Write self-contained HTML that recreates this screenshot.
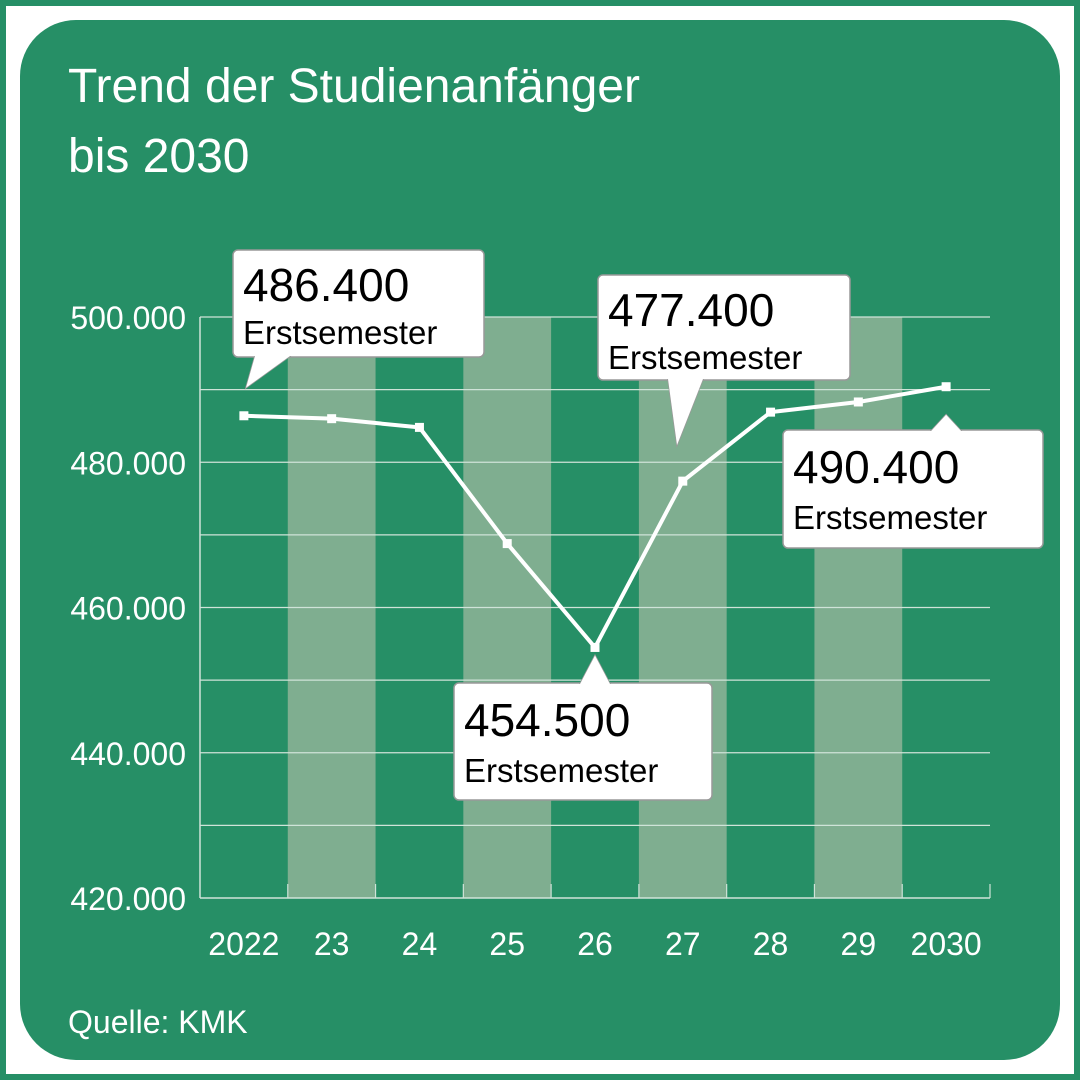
<!DOCTYPE html>
<html><head><meta charset="utf-8"><style>
html,body{margin:0;padding:0;background:#fff}
svg{display:block}
text{font-family:"Liberation Sans",sans-serif}
</style></head><body>
<svg width="1080" height="1080" viewBox="0 0 1080 1080">
<rect x="3" y="3" width="1074" height="1074" fill="#fff" stroke="#268f66" stroke-width="6"/>
<rect x="20" y="20" width="1040" height="1040" rx="56" fill="#268f66"/>
<text x="68" y="102" font-size="48" fill="#fff">Trend der Studienanfänger</text>
<text x="68" y="172" font-size="48" fill="#fff">bis 2030</text>
<g id="plot"></g>
<text x="68" y="1033" font-size="32" fill="#fff">Quelle: KMK</text>
</svg>
<script>
const categories=["2022","23","24","25","26","27","28","29","2030"];
const values=[486400,486000,484800,468800,454500,477400,486900,488300,490400];
const yTicks=[420000,440000,460000,480000,500000];
const yTickLabels=["420.000","440.000","460.000","480.000","500.000"];
const callouts=[
 {i:0,label:"486.400",box:[233,250,251,107],tail:"up"},
 {i:5,label:"477.400",box:[598,275,252,105],tail:"up"},
 {i:4,label:"454.500",box:[454,683,258,117],tail:"down"},
 {i:8,label:"490.400",box:[783,430,260,118],tail:"down"}
];
const NS="http://www.w3.org/2000/svg";
const g=document.getElementById('plot');
const X0=200,X1=990,Y0=898,Ymin=420000,Ymax=500000,Ytop=317;
const bw=(X1-X0)/categories.length;
const xc=i=>X0+bw*(i+0.5);
const y=v=>Y0-(v-Ymin)/(Ymax-Ymin)*(Y0-Ytop);
function el(t,a,p){const e=document.createElementNS(NS,t);for(const k in a)e.setAttribute(k,a[k]);(p||g).appendChild(e);return e;}
// stripes
categories.forEach((c,i)=>{if(i%2===1){const r=el('rect',{x:X0+bw*i,y:y(500000),width:bw,height:Y0-y(500000),fill:'#7fae90'});

}});
// gridlines incl minor
for(let v=Ymin+10000;v<=Ymax;v+=10000){const l=el('line',{x1:X0,x2:X1,y1:y(v),y2:y(v),stroke:'#cfe3d8','stroke-width':1.2});

}
const ax=el('line',{x1:X0,x2:X0,y1:y(500000),y2:Y0,stroke:'#cfe3d8','stroke-width':1.5});


const xa=el('line',{x1:X0,x2:X1,y1:Y0,y2:Y0,stroke:'#cfe3d8','stroke-width':1.5});


for(let i=1;i<=categories.length;i++){const t=el('line',{x1:X0+bw*i,x2:X0+bw*i,y1:Y0,y2:Y0-14,stroke:'#cfe3d8','stroke-width':1.2});

}
yTicks.forEach((v,k)=>{const t=el('text',{x:186,y:y(v)+12,'font-size':32,fill:'#fff','text-anchor':'end'});t.textContent=yTickLabels[k];

});
categories.forEach((c,i)=>{const t=el('text',{x:xc(i),y:955,'font-size':32,fill:'#fff','text-anchor':'middle'});t.textContent=c;

});
const ln=el('polyline',{points:values.map((v,i)=>xc(i)+','+y(v)).join(' '),fill:'none',stroke:'#fff','stroke-width':4,'stroke-linejoin':'round'});


values.forEach((v,i)=>{const m=el('rect',{x:xc(i)-4.5,y:y(v)-4.5,width:9,height:9,fill:'#fff'});

});
callouts.forEach(c=>{
 const [bx,by,w,h]=c.box;const px=xc(c.i),py=y(values[c.i]);
 const grp=el('g',{});
 
 
 let tail;
 if(c.tail==='up'){ // tail below box pointing down to point
   const tx=c.i===0?bx+22:bx+70;const ty=c.i===0?py-28:py-36;
   tail=`${tx},${by+h-1} ${tx+35},${by+h-1} ${c.i===0?bx+13:bx+79},${ty}`;
 } else {
   const ty=py+(c.i===4?8:28);const tx=px-15;
   tail=`${tx},${by+1} ${tx+30},${by+1} ${px},${ty}`;
 }
 el('rect',{x:bx,y:by,width:w,height:h,rx:5,fill:'#fff',stroke:'#999','stroke-width':1.5},grp);
 el('polygon',{points:tail,fill:'#fff',stroke:'#999','stroke-width':1.5},grp);
 el('polygon',{points:tail,fill:'#fff'},grp);
 el('rect',{x:bx+1,y:by+1,width:w-2,height:h-2,rx:4,fill:'#fff'},grp);
 const big=h>110;
 const t1=el('text',{x:bx+10,y:by+(big?53:51),'font-size':46,fill:'#000'},grp);t1.textContent=c.label;
 const t2=el('text',{x:bx+10,y:by+(big?99:94),'font-size':33,fill:'#000'},grp);t2.textContent='Erstsemester';
});
</script>
</body></html>
